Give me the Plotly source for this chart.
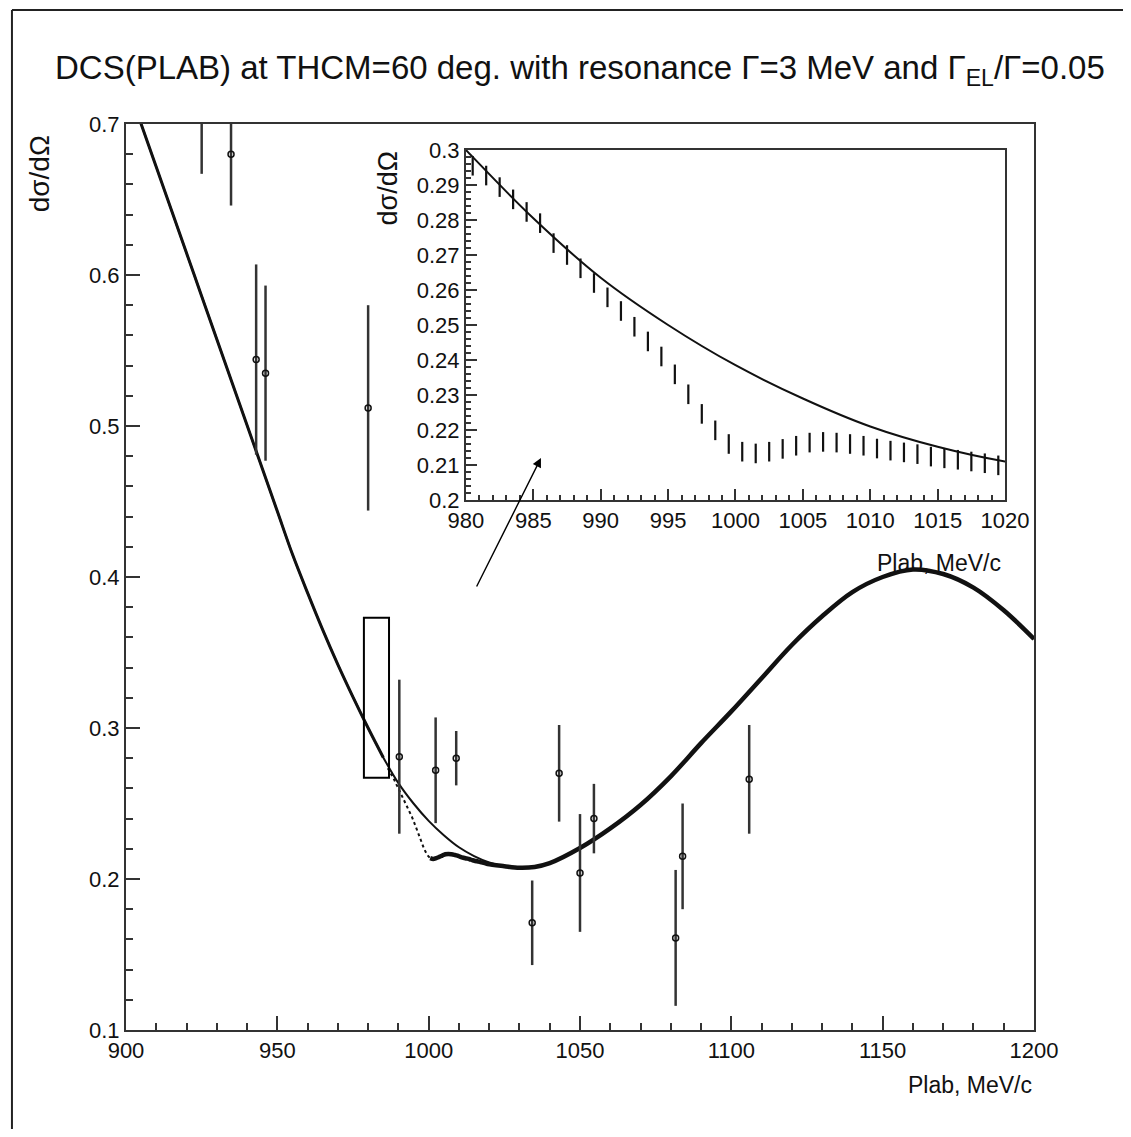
import plotly.graph_objects as go

# smooth cross section without resonance
bg_plab = [900, 905, 910, 915, 920, 925, 930, 935, 940, 945, 950, 955, 960, 965, 970,
           975, 980, 985, 990, 995, 1000, 1005, 1010, 1015, 1020, 1025, 1030, 1035,
           1040, 1050, 1060, 1070, 1080, 1090, 1100, 1110, 1120, 1130, 1140, 1150,
           1160, 1170, 1180, 1190, 1200]
bg_dcs = [0.7285, 0.700, 0.6715, 0.643, 0.6145, 0.586, 0.5575, 0.529, 0.5005, 0.472, 0.4435,
          0.415, 0.3895, 0.365, 0.342, 0.3205, 0.300, 0.2805, 0.2635, 0.2500, 0.2385,
          0.2290, 0.2210, 0.2152, 0.2110, 0.2085, 0.2075, 0.2080, 0.2105, 0.2205, 0.2335,
          0.249, 0.268, 0.290, 0.311, 0.333, 0.355, 0.374, 0.390, 0.400, 0.405, 0.402,
          0.393, 0.378, 0.359]

# with resonance, 1 MeV bins (inset dashes)
res_plab = [980.5, 981.5, 982.5, 983.5, 984.5, 985.5, 986.5, 987.5, 988.5, 989.5,
            990.5, 991.5, 992.5, 993.5, 994.5, 995.5, 996.5, 997.5, 998.5, 999.5,
            1000.5, 1001.5, 1002.5, 1003.5, 1004.5, 1005.5, 1006.5, 1007.5, 1008.5, 1009.5,
            1010.5, 1011.5, 1012.5, 1013.5, 1014.5, 1015.5, 1016.5, 1017.5, 1018.5, 1019.5]
res_dcs = [0.2955, 0.2927, 0.2894, 0.2859, 0.2823, 0.2791, 0.2734, 0.2700, 0.2662, 0.2620,
           0.2579, 0.2540, 0.2495, 0.2453, 0.2410, 0.2359, 0.2302, 0.2246, 0.2199, 0.2160,
           0.2138, 0.2133, 0.2138, 0.2146, 0.2155, 0.2164, 0.2166, 0.2164, 0.2160, 0.2155,
           0.2147, 0.2141, 0.2136, 0.2131, 0.2124, 0.2119, 0.2115, 0.2110, 0.2105, 0.2099]

# measured points
exp_plab = [925.0, 934.7, 943.0, 946.1, 980.0, 990.3, 1002.3, 1009.1, 1034.2, 1043.1,
            1050.0, 1054.6, 1081.6, 1083.9, 1105.9]
exp_dcs = [0.717, 0.680, 0.544, 0.535, 0.512, 0.281, 0.272, 0.280, 0.171, 0.270,
           0.204, 0.240, 0.161, 0.215, 0.266]
exp_err = [0.050, 0.034, 0.063, 0.058, 0.068, 0.051, 0.035, 0.018, 0.028, 0.032,
           0.039, 0.023, 0.045, 0.035, 0.036]

FONT = "Liberation Sans, Arial, sans-serif"
INK = "#111"

fig = go.Figure()

# main panel: both curves coincide below ~985 MeV
fig.add_trace(go.Scatter(x=bg_plab, y=bg_dcs, mode="lines", line=dict(color=INK, width=2, shape="spline")))
both_x = [p for p in bg_plab if p <= 985]
both_y = [v for p, v in zip(bg_plab, bg_dcs) if p <= 985]
fig.add_trace(go.Scatter(x=both_x, y=both_y, mode="lines", line=dict(color=INK, width=3, shape="spline")))
dot_x = [p for p in res_plab if 986 < p <= 1001]
dot_y = [v for p, v in zip(res_plab, res_dcs) if 986 < p <= 1001]
fig.add_trace(go.Scatter(x=dot_x, y=dot_y, mode="lines", line=dict(color=INK, width=2, dash="dot")))
thick_x = [p for p in res_plab if p >= 1000] + [p for p in bg_plab if p > 1020]
thick_y = [v for p, v in zip(res_plab, res_dcs) if p >= 1000] + [v for p, v in zip(bg_plab, bg_dcs) if p > 1020]
fig.add_trace(go.Scatter(x=thick_x, y=thick_y, mode="lines", line=dict(color=INK, width=4.5, shape="spline")))
fig.add_trace(go.Scatter(
    x=exp_plab, y=exp_dcs, mode="markers",
    marker=dict(symbol="circle-open", size=6, color=INK, line=dict(width=1.5, color=INK)),
    error_y=dict(type="data", array=exp_err, visible=True, thickness=2.5, width=0, color="#333"),
))

# inset
fig.add_trace(go.Scatter(x=bg_plab, y=bg_dcs, mode="lines", xaxis="x2", yaxis="y2",
                         line=dict(color=INK, width=2, shape="spline")))
fig.add_trace(go.Scatter(x=res_plab, y=res_dcs, mode="markers", xaxis="x2", yaxis="y2",
                         marker=dict(symbol="line-ns", size=14, color=INK, line=dict(width=2.2, color=INK))))

axis_common = dict(showline=True, mirror=True, linecolor="#333", linewidth=2, ticks="inside",
                   tickcolor="#333", tickwidth=2, showgrid=False, zeroline=False,
                   tickfont=dict(family=FONT, size=22, color=INK))

fig.update_layout(
    width=1115, height=1121, showlegend=False,
    paper_bgcolor="white", plot_bgcolor="white",
    margin=dict(l=118, r=89, t=116, b=99),
    xaxis=dict(range=[900, 1200], dtick=50, tick0=900, ticklen=14,
               minor=dict(dtick=10, ticklen=7, ticks="inside", tickcolor="#333", tickwidth=2),
               domain=[0, 1], **axis_common),
    yaxis=dict(range=[0.1, 0.7], dtick=0.1, tick0=0.1, ticklen=14, tickformat=".1f",
               minor=dict(dtick=0.02, ticklen=7, ticks="inside", tickcolor="#333", tickwidth=2),
               domain=[0, 1], **axis_common),
    xaxis2=dict(range=[980, 1020], dtick=5, tick0=980, ticklen=11, anchor="y2",
                minor=dict(dtick=1, ticklen=5, ticks="inside", tickcolor="#333", tickwidth=1.5),
                domain=[0.3744, 0.9681], **axis_common),
    yaxis2=dict(range=[0.2, 0.3], dtick=0.01, tick0=0.2, ticklen=11, anchor="x2",
                minor=dict(dtick=0.002, ticklen=5, ticks="inside", tickcolor="#333", tickwidth=1.5),
                domain=[0.585, 0.9713], **axis_common),
)

fig.add_annotation(text="DCS(PLAB) at THCM=60 deg. with resonance Γ=3 MeV and Γ<sub>EL</sub>/Γ=0.05",
                   xref="paper", yref="paper", x=0.5, y=1.0342, yanchor="bottom", showarrow=False,
                   font=dict(family=FONT, size=33, color=INK))
fig.add_annotation(text="dσ/dΩ", xref="paper", yref="paper", x=-0.095, y=0.99, xanchor="center",
                   yanchor="top", textangle=-90, showarrow=False, font=dict(family=FONT, size=28, color=INK))
fig.add_annotation(text="Plab, MeV/c", xref="paper", yref="paper", x=1.0, y=-0.0607,
                   xanchor="right", yanchor="middle", showarrow=False,
                   font=dict(family=FONT, size=23, color=INK))
fig.add_annotation(text="dσ/dΩ", xref="paper", yref="paper", x=0.288, y=0.9713, xanchor="center",
                   yanchor="top", textangle=-90, showarrow=False, font=dict(family=FONT, size=27, color=INK))
fig.add_annotation(text="Plab, MeV/c", xref="paper", yref="paper", x=0.966, y=0.5155,
                   xanchor="right", yanchor="middle", showarrow=False,
                   font=dict(family=FONT, size=23, color=INK))

# zoom box and arrow to inset
fig.add_shape(type="rect", xref="x", yref="y", x0=978.6, x1=986.9, y0=0.267, y1=0.373,
              line=dict(color="black", width=2))
fig.add_annotation(x=1037.1, y=0.4788, ax=1015.6, ay=0.3927, xref="x", yref="y", axref="x", ayref="y",
                   showarrow=True, arrowhead=2, arrowsize=1.3, arrowwidth=1.4, arrowcolor="black", text="")

# outer frame (top and left edges)
fig.add_shape(type="line", xref="paper", yref="paper", x0=-0.1256, x1=1.2, y0=1.1258, y1=1.1258,
              line=dict(color="#222", width=2))
fig.add_shape(type="line", xref="paper", yref="paper", x0=-0.1256, x1=-0.1256, y0=-0.2, y1=1.1258,
              line=dict(color="#222", width=2))

fig.write_html("out.html")
